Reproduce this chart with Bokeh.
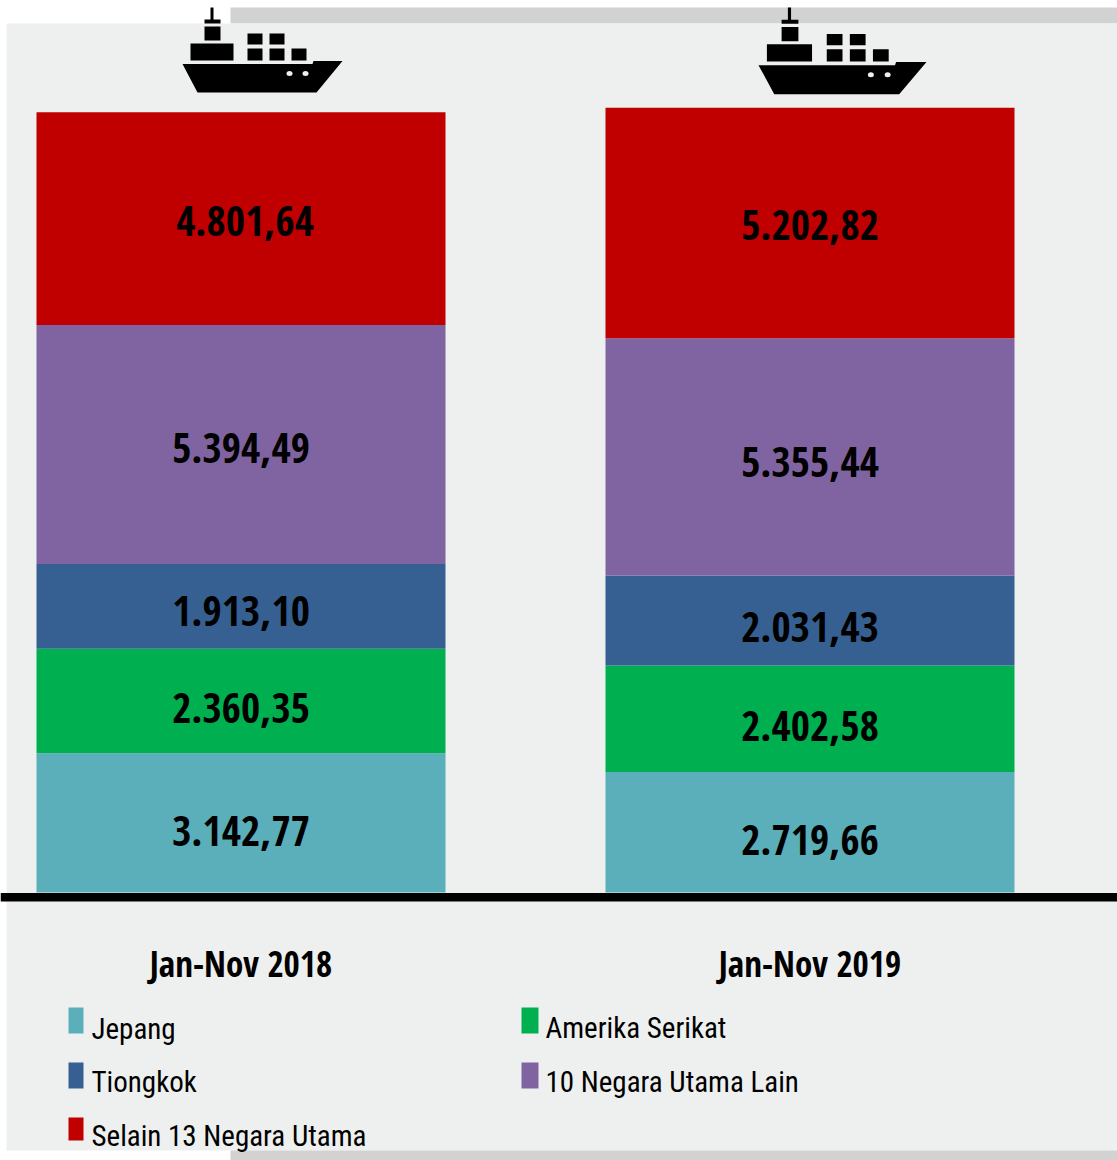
from bokeh.plotting import figure
from bokeh.models import Range1d, ColumnDataSource, LinearScale
from bokeh.core.properties import value
from bokeh.embed import file_html
from bokeh.resources import INLINE

# ---- data ----
periods = ["Jan-Nov 2018", "Jan-Nov 2019"]
series = ["Jepang", "Amerika Serikat", "Tiongkok", "10 Negara Utama Lain", "Selain 13 Negara Utama"]
jepang = [3142.77, 2719.66]
amerika = [2360.35, 2402.58]
tiongkok = [1913.10, 2031.43]
lain = [5394.49, 5355.44]
selain = [4801.64, 5202.82]
labels_2018 = ["3.142,77", "2.360,35", "1.913,10", "5.394,49", "4.801,64"]
labels_2019 = ["2.719,66", "2.402,58", "2.031,43", "5.355,44", "5.202,82"]
colors = ["#5AAFBB", "#00B050", "#366092", "#8064A2", "#C00000"]

# ---- layout ----
W, H = 1117, 1160
PX_PER_UNIT = 0.0443
BASE_PX = 892
BAR_X = [240.5, 809.5]
BAR_W = 409
BOLD_FONT = "Open Sans Condensed"
TEXT_FONT = "Roboto Condensed"
LABEL_DY = [[8, 7, 5, 4, 2], [8, 7, 6, 5, 2]]
LABEL_DX = [[0, 0, 0, 0, 4], [0, 0, 0, 0, 0]]
# legend boxes: left, right, top, bottom, text x, text y (pixels), in the order of `series`
LEG_LEFT = [68, 521, 68, 521, 68]
LEG_RIGHT = [83, 538, 83, 538, 83]
LEG_TOP = [1007, 1007, 1062, 1062, 1117]
LEG_BOTTOM = [1033, 1033, 1088, 1088, 1140]
LEG_TEXT_X = [91, 545, 91, 545, 91]
LEG_TEXT_Y = [1028, 1027, 1081, 1081, 1135]

p = figure(width=W, height=H, output_backend="svg", toolbar_location=None,
           x_range=Range1d(0, W),
           y_range=Range1d((BASE_PX - H) / PX_PER_UNIT, BASE_PX / PX_PER_UNIT),
           min_border=0, min_border_left=0, min_border_right=0,
           min_border_top=0, min_border_bottom=0,
           background_fill_color="white", border_fill_color="white", outline_line_color=None)
p.extra_y_ranges = {"px": Range1d(H, 0)}
p.extra_y_scales = {"px": LinearScale()}
p.axis.visible = False
p.grid.visible = False
p.styles = {"position": "absolute", "left": "0px", "top": "0px"}

# backdrop
p.quad(left=[230, 6, 230], right=[W, W, W], top=[7, 23, 1150], bottom=[23, 1150, H],
       y_range_name="px", color=["#D2D2D2", "#EEF0EF", "#D2D2D2"], line_color=None)

# stacked bars
src = ColumnDataSource(dict(x=BAR_X, Jepang=jepang, Amerika=amerika, Tiongkok=tiongkok,
                            Lain=lain, Selain=selain))
keys = ["Jepang", "Amerika", "Tiongkok", "Lain", "Selain"]
bars = p.vbar_stack(keys, x="x", width=BAR_W, color=colors, line_color=None, source=src)

# value labels, centred on the stack segments
columns = [jepang, amerika, tiongkok, lain, selain]
for i, (cx, labs) in enumerate(zip(BAR_X, [labels_2018, labels_2019])):
    acc = 0.0
    ys, txt = [], []
    for col, lab in zip(columns, labs):
        ys.append(acc + col[i] / 2)
        acc += col[i]
        txt.append(lab)
    p.text(x=[cx] * 5, y=ys, text=txt, x_offset=LABEL_DX[i], y_offset=LABEL_DY[i],
           text_align="center", text_baseline="middle",
           text_font=value(BOLD_FONT), text_font_style="bold", text_font_size="41.5px", text_color="black")

# baseline
p.quad(left=[0], right=[W], top=[892.5], bottom=[901], y_range_name="px", color="black", line_color=None)

# period labels
p.text(x=BAR_X, y=[963, 963], text=periods, y_range_name="px", text_align="center",
       text_baseline="middle", text_font=value(BOLD_FONT), text_font_style="bold",
       text_font_size="35px", text_color="black")

# ships
def ship(x0, y0, sx, sy):
    X = lambda v: x0 + v * sx
    Y = lambda v: y0 + v * sy
    boxes = [(28, 31, 0, 14), (22, 38, 12, 16), (22, 38, 19, 33), (8, 51, 36, 53),
             (65, 80, 26, 37), (87, 102, 26, 37), (65, 80, 41, 53), (87, 102, 41, 53), (109, 124, 41, 53)]
    p.quad(left=[X(b[0]) for b in boxes], right=[X(b[1]) for b in boxes],
           top=[Y(b[2]) for b in boxes], bottom=[Y(b[3]) for b in boxes],
           y_range_name="px", color="black", line_color=None)
    hx = [0, 130, 131, 160, 134, 15]
    hy = [56.5, 56.5, 53.5, 53.5, 85, 85]
    p.patch([X(v) for v in hx], [Y(v) for v in hy], y_range_name="px", color="black", line_color=None)
    p.ellipse(x=[X(107), X(123)], y=[Y(66), Y(66)], width=6, height=5, y_range_name="px",
              color="#EEF0EF", line_color=None)

ship(182, 7, 1.0, 1.0)
ship(758, 7, 1.05, 1.02)

# legend
p.quad(left=LEG_LEFT, right=LEG_RIGHT, top=LEG_TOP, bottom=LEG_BOTTOM, y_range_name="px",
       color=colors, line_color=None)
p.text(x=LEG_TEXT_X, y=LEG_TEXT_Y, text=series, y_range_name="px", text_align="left",
       text_baseline="middle", text_font=value(TEXT_FONT), text_font_size="29px", text_color="black")

open("out.html", "w").write(file_html(p, INLINE))
